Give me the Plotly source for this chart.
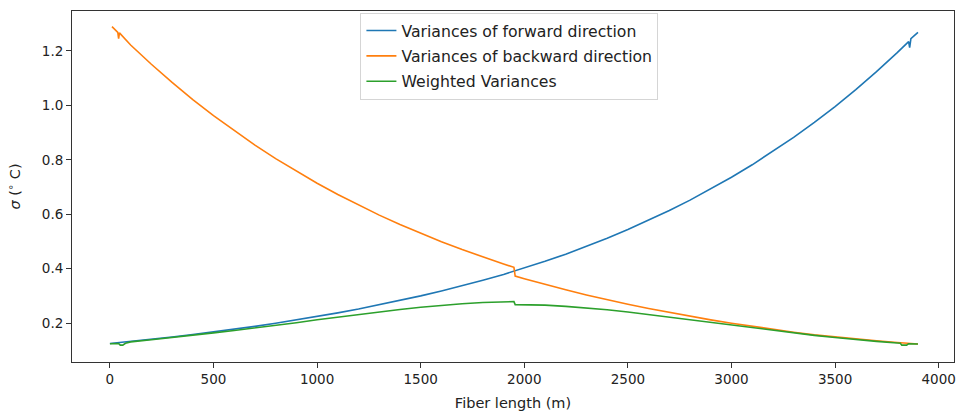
import plotly.graph_objects as go

# Forward direction (blue)
fwd_x = [0, 100, 200, 300, 400, 500, 600, 700, 800, 900, 1000, 1100, 1200, 1300, 1400,
         1500, 1600, 1700, 1800, 1900, 2000, 2100, 2200, 2300, 2400, 2500, 2600, 2700,
         2800, 2900, 3000, 3100, 3200, 3300, 3400, 3500, 3600, 3700, 3800,
         3850, 3855, 3860, 3866, 3900]
fwd_y = [0.125, 0.1325, 0.1405, 0.1489, 0.1579, 0.1674, 0.1774, 0.1881, 0.1994, 0.2114,
         0.2241, 0.2375, 0.2518, 0.2670, 0.2830, 0.3000, 0.3180, 0.3372, 0.3574, 0.3789,
         0.4017, 0.4268, 0.4533, 0.4816, 0.5116, 0.5436, 0.5774, 0.6135, 0.6517, 0.6924,
         0.7356, 0.7815, 0.8302, 0.8820, 0.9370, 0.9955, 1.0576, 1.1236, 1.1936,
         1.2302, 1.234, 1.212, 1.245, 1.268]

# Backward direction (orange)
bwd_x = [10, 25, 38, 42, 46, 100, 200, 300, 400, 500, 600, 700, 800, 900, 1000, 1100,
         1200, 1300, 1400, 1500, 1600, 1700, 1800, 1900, 1950, 1956, 2000, 2100, 2200,
         2300, 2400, 2500, 2600, 2700, 2800, 2900, 3000, 3100, 3200, 3300, 3400, 3500,
         3600, 3700, 3800, 3900]
bwd_y = [1.289, 1.277, 1.268, 1.245, 1.266, 1.2216, 1.1508, 1.0841, 1.0213, 0.9621,
         0.9063, 0.8538, 0.8043, 0.7577, 0.7138, 0.6724, 0.6335, 0.5967, 0.5622, 0.5296,
         0.4989, 0.4700, 0.4427, 0.4171, 0.4048, 0.373, 0.3633, 0.3421, 0.3222, 0.3034,
         0.2858, 0.2691, 0.2535, 0.2387, 0.2248, 0.2117, 0.1994, 0.1878, 0.1769, 0.1666,
         0.1569, 0.149, 0.142, 0.135, 0.129, 0.123]

# Weighted variances (green)
wgt_x = [0, 30, 42, 50, 62, 75, 100, 200, 300, 400, 500, 600, 700, 800, 900, 1000,
         1100, 1200, 1300, 1400, 1500, 1600, 1700, 1800, 1900, 1950, 1956, 2000, 2100,
         2200, 2300, 2400, 2500, 2600, 2700, 2800, 2900, 3000, 3100, 3200, 3300, 3400,
         3500, 3600, 3700, 3800, 3815, 3822, 3835, 3845, 3855, 3900]
wgt_y = [0.124, 0.126, 0.125, 0.119, 0.119, 0.126, 0.131, 0.139, 0.1466, 0.155, 0.164,
         0.173, 0.182, 0.191, 0.2015, 0.212, 0.222, 0.232, 0.241, 0.250, 0.258, 0.265,
         0.271, 0.2756, 0.278, 0.279, 0.268, 0.268, 0.266, 0.2615, 0.2556, 0.249,
         0.2405, 0.231, 0.222, 0.212, 0.2025, 0.192, 0.1827, 0.173, 0.163, 0.155,
         0.147, 0.139, 0.133, 0.127, 0.126, 0.119, 0.118, 0.119, 0.124, 0.123]

x_ticks = [0, 500, 1000, 1500, 2000, 2500, 3000, 3500, 4000]
y_ticks = [0.2, 0.4, 0.6, 0.8, 1.0, 1.2]
y_tick_text = ["0.2", "0.4", "0.6", "0.8", "1.0", "1.2"]

FONT = "DejaVu Sans"
fig = go.Figure()
fig.add_trace(go.Scatter(x=fwd_x, y=fwd_y, mode="lines", name="Variances of forward direction",
                         line=dict(color="#1f77b4", width=1.6), legendgroup="a"))
fig.add_trace(go.Scatter(x=bwd_x, y=bwd_y, mode="lines", name="Variances of backward direction",
                         line=dict(color="#ff7f0e", width=1.6), legendgroup="b"))
fig.add_trace(go.Scatter(x=wgt_x, y=wgt_y, mode="lines", name="Weighted Variances",
                         line=dict(color="#2ca02c", width=1.6), legendgroup="c"))

axis_common = dict(showline=True, mirror=True, linecolor="#333333", linewidth=1,
                   ticks="outside", ticklen=5, tickcolor="#333333", tickwidth=1,
                   showgrid=False, zeroline=False,
                   tickfont=dict(family=FONT, size=13.5, color="#222222"))

fig.update_layout(
    width=961, height=413,
    margin=dict(l=72, r=5, t=11, b=50),
    paper_bgcolor="white", plot_bgcolor="white",
    font=dict(family=FONT, size=13.5, color="#222222"),
    showlegend=True,
    legend=dict(x=0.327, y=0.995, xanchor="left", yanchor="top",
                bgcolor="rgba(255,255,255,0.8)", bordercolor="#d5d5d5", borderwidth=1,
                font=dict(family=FONT, size=15.7, color="#222222"),
                tracegroupgap=2),
    xaxis=dict(range=[-183, 4074], tickvals=x_ticks,
               title=dict(text="Fiber length (m)", standoff=11,
                          font=dict(family=FONT, size=14.5, color="#222222")),
               **axis_common),
    yaxis=dict(range=[0.0571, 1.3465], tickvals=y_ticks, ticktext=y_tick_text,
               title=dict(text="<i>σ</i> (<sup>∘</sup> C)", standoff=17,
                          font=dict(family=FONT, size=14.5, color="#222222")),
               **axis_common),
)

fig.write_html("out.html")
